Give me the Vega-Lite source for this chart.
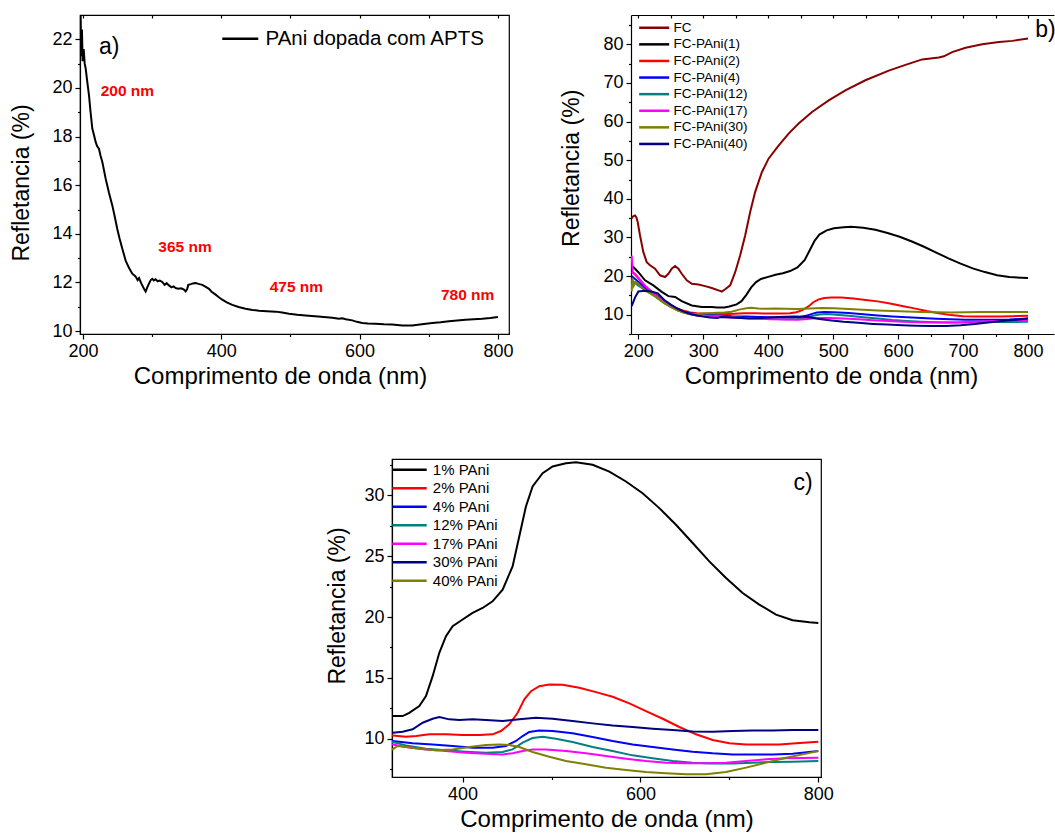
{
  "$schema": "https://vega.github.io/schema/vega-lite/v6.json",
  "padding": {"left": 10, "top": 13, "right": 0, "bottom": 0},
  "background": "white",
  "config": {
    "font": "Liberation Sans",
    "view": {"stroke": "black", "strokeWidth": 1.2},
    "axis": {"domainColor": "black", "tickColor": "black", "labelColor": "black", "titleColor": "black", "labelFontSize": 18, "titleFontSize": 24, "titleFontWeight": "normal", "labelPadding": 3, "tickWidth": 1.2, "tickSize": 5, "domainWidth": 1.2, "grid": false, "titlePadding": 4, "labelOverlap": false, "labelFlush": false},
    "axisY": {"titleFontSize": 23},
    "legend": {"padding": 0, "labelColor": "black", "labelLimit": 400}
  },
  "datasets": {
    "a": [
      {"x":196.6,"y":23.0},{"x":197.5,"y":21.3},{"x":198.5,"y":22.4},{"x":199.5,"y":21.1},{"x":201,"y":21.6},{"x":202.5,"y":21.0},{"x":203.9,"y":20.8},{"x":206,"y":20.3},{"x":208.7,"y":19.7},{"x":211,"y":19.0},{"x":213.5,"y":18.33},{"x":216,"y":18.05},{"x":218.3,"y":17.78},{"x":220.5,"y":17.6},{"x":223.1,"y":17.5},{"x":225.5,"y":17.2},{"x":228,"y":16.95},{"x":232.8,"y":16.27},{"x":237.5,"y":15.7},{"x":242.4,"y":15.17},{"x":246,"y":14.7},{"x":249.6,"y":14.2},{"x":253,"y":13.8},{"x":256.9,"y":13.39},{"x":261.7,"y":12.9},{"x":266.5,"y":12.6},{"x":271.3,"y":12.36},{"x":276,"y":12.25},{"x":279,"y":12.1},{"x":281,"y":12.18},{"x":284.5,"y":11.95},{"x":288.2,"y":11.74},{"x":290.6,"y":11.63},{"x":293,"y":11.8},{"x":295.4,"y":11.95},{"x":298,"y":12.1},{"x":300.2,"y":12.15},{"x":302.5,"y":12.08},{"x":305,"y":12.13},{"x":308,"y":12.05},{"x":311,"y":12.08},{"x":314.7,"y":12.02},{"x":318,"y":11.9},{"x":321,"y":11.97},{"x":324.3,"y":11.88},{"x":328,"y":11.8},{"x":331,"y":11.84},{"x":333.9,"y":11.77},{"x":338,"y":11.74},{"x":342,"y":11.76},{"x":346,"y":11.71},{"x":348.4,"y":11.63},{"x":350.5,"y":11.72},{"x":352.3,"y":11.9},{"x":356,"y":11.93},{"x":359,"y":11.96},{"x":362.9,"y":11.98},{"x":367,"y":11.94},{"x":372.5,"y":11.9},{"x":377,"y":11.83},{"x":382.2,"y":11.74},{"x":386,"y":11.62},{"x":391.8,"y":11.5},{"x":396,"y":11.4},{"x":401.4,"y":11.29},{"x":408,"y":11.18},{"x":415.9,"y":11.08},{"x":425,"y":10.99},{"x":435.2,"y":10.92},{"x":445,"y":10.87},{"x":454.5,"y":10.84},{"x":466,"y":10.82},{"x":478.6,"y":10.8},{"x":488,"y":10.76},{"x":497.8,"y":10.71},{"x":510,"y":10.67},{"x":521.9,"y":10.64},{"x":540,"y":10.6},{"x":560.5,"y":10.55},{"x":570.1,"y":10.51},{"x":574.9,"y":10.53},{"x":580,"y":10.49},{"x":589.4,"y":10.44},{"x":596,"y":10.38},{"x":603.9,"y":10.33},{"x":612,"y":10.31},{"x":623.1,"y":10.3},{"x":635,"y":10.28},{"x":647.2,"y":10.27},{"x":661.7,"y":10.23},{"x":676.1,"y":10.23},{"x":690,"y":10.28},{"x":705,"y":10.33},{"x":717,"y":10.36},{"x":729.2,"y":10.4},{"x":741,"y":10.44},{"x":753.3,"y":10.47},{"x":765,"y":10.49},{"x":777.3,"y":10.51},{"x":789,"y":10.54},{"x":800,"y":10.58}
    ],
    "annA": [
      {"x":225.6,"y":19.87,"t":"200 nm"},{"x":308.9,"y":13.45,"t":"365 nm"},{"x":469.9,"y":11.8,"t":"475 nm"},{"x":717.6,"y":11.47,"t":"780 nm"}
    ],
    "spec": [
      {"s":"FC","x":189.7,"y":34.9},{"s":"FC","x":192,"y":35.5},{"s":"FC","x":194.9,"y":35.7},{"s":"FC","x":197,"y":35.2},{"s":"FC","x":199,"y":34.0},{"s":"FC","x":202.6,"y":30.5},{"s":"FC","x":207.7,"y":26.2},{"s":"FC","x":212.9,"y":23.6},{"s":"FC","x":218,"y":22.8},{"s":"FC","x":225.7,"y":21.9},{"s":"FC","x":233.4,"y":20.2},{"s":"FC","x":241.1,"y":19.75},{"s":"FC","x":246.3,"y":20.6},{"s":"FC","x":251.4,"y":21.9},{"s":"FC","x":256.6,"y":22.6},{"s":"FC","x":261.7,"y":21.9},{"s":"FC","x":266.8,"y":20.6},{"s":"FC","x":274.6,"y":18.9},{"s":"FC","x":282.3,"y":18.0},{"s":"FC","x":292.5,"y":17.8},{"s":"FC","x":302.8,"y":17.4},{"s":"FC","x":313.1,"y":16.9},{"s":"FC","x":323.4,"y":16.3},{"s":"FC","x":328.5,"y":16.0},{"s":"FC","x":333.7,"y":16.6},{"s":"FC","x":341.4,"y":17.6},{"s":"FC","x":349.1,"y":21.0},{"s":"FC","x":356.8,"y":25.4},{"s":"FC","x":364.5,"y":30.5},{"s":"FC","x":372.2,"y":36.6},{"s":"FC","x":379.9,"y":41.8},{"s":"FC","x":390.2,"y":46.9},{"s":"FC","x":400.5,"y":50.4},{"s":"FC","x":415.9,"y":53.8},{"s":"FC","x":431.4,"y":56.9},{"s":"FC","x":446.8,"y":59.5},{"s":"FC","x":467.4,"y":62.5},{"s":"FC","x":493.1,"y":65.5},{"s":"FC","x":518.8,"y":68.1},{"s":"FC","x":549.6,"y":70.7},{"s":"FC","x":585.6,"y":73.2},{"s":"FC","x":611.3,"y":74.7},{"s":"FC","x":637,"y":76.1},{"s":"FC","x":662.7,"y":76.6},{"s":"FC","x":670.4,"y":76.9},{"s":"FC","x":683.2,"y":78.0},{"s":"FC","x":703.9,"y":79.1},{"s":"FC","x":729.6,"y":80.0},{"s":"FC","x":755.3,"y":80.6},{"s":"FC","x":775.8,"y":80.9},{"s":"FC","x":800,"y":81.5},

      {"s":"1","x":189.7,"y":22.8},{"s":"1","x":194.9,"y":21.9},{"s":"1","x":200,"y":21.0},{"s":"1","x":210.3,"y":18.9},{"s":"1","x":223.1,"y":17.6},{"s":"1","x":236,"y":15.9},{"s":"1","x":246.3,"y":14.8},{"s":"1","x":256.6,"y":14.6},{"s":"1","x":266.8,"y":13.5},{"s":"1","x":282.3,"y":12.4},{"s":"1","x":297.7,"y":12.0},{"s":"1","x":313.1,"y":12.0},{"s":"1","x":321.3,"y":11.86},{"s":"1","x":332.5,"y":11.86},{"s":"1","x":340,"y":12.13},{"s":"1","x":351.3,"y":12.68},{"s":"1","x":358.8,"y":13.5},{"s":"1","x":366.3,"y":15.14},{"s":"1","x":373.8,"y":17.06},{"s":"1","x":381.3,"y":18.43},{"s":"1","x":388.8,"y":19.25},{"s":"1","x":400,"y":19.8},{"s":"1","x":411.2,"y":20.34},{"s":"1","x":422.5,"y":20.75},{"s":"1","x":433.7,"y":21.3},{"s":"1","x":445,"y":22.26},{"s":"1","x":456.2,"y":24.17},{"s":"1","x":463.7,"y":26.63},{"s":"1","x":471.2,"y":29.1},{"s":"1","x":478.7,"y":30.74},{"s":"1","x":490,"y":31.83},{"s":"1","x":501.2,"y":32.38},{"s":"1","x":516.2,"y":32.65},{"s":"1","x":527.5,"y":32.74},{"s":"1","x":546.2,"y":32.52},{"s":"1","x":565,"y":31.97},{"s":"1","x":583.7,"y":31.15},{"s":"1","x":602.4,"y":30.19},{"s":"1","x":621.2,"y":28.96},{"s":"1","x":639.9,"y":27.59},{"s":"1","x":658.7,"y":26.09},{"s":"1","x":677.4,"y":24.58},{"s":"1","x":696.2,"y":23.21},{"s":"1","x":714.9,"y":21.98},{"s":"1","x":733.6,"y":21.03},{"s":"1","x":752.4,"y":20.2},{"s":"1","x":771.1,"y":19.74},{"s":"1","x":789.9,"y":19.58},{"s":"1","x":800,"y":19.52},

      {"s":"2","x":189.7,"y":21.0},{"s":"2","x":195,"y":20.5},{"s":"2","x":200,"y":19.5},{"s":"2","x":210,"y":17.5},{"s":"2","x":220,"y":16.0},{"s":"2","x":225,"y":15.6},{"s":"2","x":230,"y":14.8},{"s":"2","x":240,"y":13.5},{"s":"2","x":250,"y":12.4},{"s":"2","x":260,"y":11.6},{"s":"2","x":270,"y":11.0},{"s":"2","x":280,"y":10.6},{"s":"2","x":290,"y":10.4},{"s":"2","x":300,"y":10.3},{"s":"2","x":310,"y":10.3},{"s":"2","x":321.3,"y":10.27},{"s":"2","x":336.3,"y":10.16},{"s":"2","x":347.6,"y":10.22},{"s":"2","x":362.5,"y":10.36},{"s":"2","x":381.3,"y":10.36},{"s":"2","x":400,"y":10.3},{"s":"2","x":418.7,"y":10.3},{"s":"2","x":433.7,"y":10.36},{"s":"2","x":443.1,"y":10.63},{"s":"2","x":452.5,"y":11.18},{"s":"2","x":461.9,"y":12.13},{"s":"2","x":469.4,"y":13.23},{"s":"2","x":476.9,"y":13.91},{"s":"2","x":486.2,"y":14.32},{"s":"2","x":497.5,"y":14.46},{"s":"2","x":512.5,"y":14.43},{"s":"2","x":531.2,"y":14.19},{"s":"2","x":550,"y":13.83},{"s":"2","x":568.7,"y":13.45},{"s":"2","x":587.5,"y":12.9},{"s":"2","x":606.2,"y":12.27},{"s":"2","x":625,"y":11.64},{"s":"2","x":643.7,"y":10.96},{"s":"2","x":662.5,"y":10.36},{"s":"2","x":681.2,"y":9.89},{"s":"2","x":700,"y":9.62},{"s":"2","x":718.7,"y":9.53},{"s":"2","x":737.5,"y":9.53},{"s":"2","x":756.2,"y":9.53},{"s":"2","x":775,"y":9.62},{"s":"2","x":800,"y":9.75},

      {"s":"4","x":189.7,"y":20.0},{"s":"4","x":200,"y":18.5},{"s":"4","x":210,"y":17.0},{"s":"4","x":220,"y":15.8},{"s":"4","x":230,"y":14.5},{"s":"4","x":240,"y":13.2},{"s":"4","x":250,"y":12.2},{"s":"4","x":260,"y":11.4},{"s":"4","x":270,"y":10.8},{"s":"4","x":280,"y":10.4},{"s":"4","x":290,"y":10.1},{"s":"4","x":300,"y":10.0},{"s":"4","x":310,"y":9.9},{"s":"4","x":321.3,"y":9.81},{"s":"4","x":343.8,"y":9.62},{"s":"4","x":366.3,"y":9.53},{"s":"4","x":388.8,"y":9.4},{"s":"4","x":411.2,"y":9.26},{"s":"4","x":433.7,"y":9.26},{"s":"4","x":448.7,"y":9.4},{"s":"4","x":460,"y":9.81},{"s":"4","x":467.5,"y":10.22},{"s":"4","x":475,"y":10.55},{"s":"4","x":486.2,"y":10.68},{"s":"4","x":501.2,"y":10.63},{"s":"4","x":523.7,"y":10.44},{"s":"4","x":546.2,"y":10.14},{"s":"4","x":568.7,"y":9.81},{"s":"4","x":591.2,"y":9.53},{"s":"4","x":613.7,"y":9.32},{"s":"4","x":636.2,"y":9.12},{"s":"4","x":658.7,"y":8.93},{"s":"4","x":681.2,"y":8.8},{"s":"4","x":703.7,"y":8.71},{"s":"4","x":726.2,"y":8.71},{"s":"4","x":748.7,"y":8.71},{"s":"4","x":771.1,"y":8.77},{"s":"4","x":800,"y":8.99},

      {"s":"12","x":189.7,"y":19.0},{"s":"12","x":200,"y":17.5},{"s":"12","x":210,"y":16.5},{"s":"12","x":220,"y":15.5},{"s":"12","x":230,"y":14.2},{"s":"12","x":240,"y":13.0},{"s":"12","x":250,"y":12.0},{"s":"12","x":260,"y":11.2},{"s":"12","x":270,"y":10.6},{"s":"12","x":280,"y":10.2},{"s":"12","x":290,"y":9.9},{"s":"12","x":300,"y":9.8},{"s":"12","x":310,"y":9.75},{"s":"12","x":321.3,"y":9.73},{"s":"12","x":336.3,"y":9.45},{"s":"12","x":358.8,"y":9.18},{"s":"12","x":381.3,"y":9.04},{"s":"12","x":403.7,"y":8.93},{"s":"12","x":426.2,"y":8.85},{"s":"12","x":445,"y":8.91},{"s":"12","x":456.2,"y":9.12},{"s":"12","x":467.5,"y":9.67},{"s":"12","x":478.7,"y":10.05},{"s":"12","x":490,"y":10.16},{"s":"12","x":505,"y":10.0},{"s":"12","x":523.7,"y":9.73},{"s":"12","x":546.2,"y":9.32},{"s":"12","x":568.7,"y":8.99},{"s":"12","x":591.2,"y":8.63},{"s":"12","x":613.7,"y":8.39},{"s":"12","x":636.2,"y":8.17},{"s":"12","x":658.7,"y":8.03},{"s":"12","x":681.2,"y":7.95},{"s":"12","x":703.7,"y":7.95},{"s":"12","x":726.2,"y":8.03},{"s":"12","x":748.7,"y":8.08},{"s":"12","x":771.1,"y":8.11},{"s":"12","x":800,"y":8.17},

      {"s":"17","x":189.7,"y":25.3},{"s":"17","x":191.5,"y":21.0},{"s":"17","x":200,"y":19.5},{"s":"17","x":210,"y":17.5},{"s":"17","x":220,"y":16.0},{"s":"17","x":230,"y":14.5},{"s":"17","x":240,"y":13.2},{"s":"17","x":250,"y":12.1},{"s":"17","x":260,"y":11.2},{"s":"17","x":270,"y":10.6},{"s":"17","x":280,"y":10.1},{"s":"17","x":290,"y":9.8},{"s":"17","x":300,"y":9.7},{"s":"17","x":310,"y":9.6},{"s":"17","x":321.3,"y":9.53},{"s":"17","x":336.3,"y":9.32},{"s":"17","x":358.8,"y":9.12},{"s":"17","x":381.3,"y":8.99},{"s":"17","x":403.7,"y":8.85},{"s":"17","x":426.2,"y":8.77},{"s":"17","x":445,"y":8.71},{"s":"17","x":456.2,"y":8.8},{"s":"17","x":467.5,"y":8.99},{"s":"17","x":478.7,"y":9.12},{"s":"17","x":493.7,"y":9.12},{"s":"17","x":516.2,"y":8.99},{"s":"17","x":538.7,"y":8.8},{"s":"17","x":561.2,"y":8.58},{"s":"17","x":583.7,"y":8.36},{"s":"17","x":606.2,"y":8.17},{"s":"17","x":628.7,"y":8.03},{"s":"17","x":651.2,"y":7.98},{"s":"17","x":673.7,"y":7.98},{"s":"17","x":696.2,"y":8.03},{"s":"17","x":718.7,"y":8.17},{"s":"17","x":741.2,"y":8.3},{"s":"17","x":763.7,"y":8.39},{"s":"17","x":800,"y":8.44},

      {"s":"30","x":189.7,"y":16.0},{"s":"30","x":191,"y":19.5},{"s":"30","x":193,"y":17.5},{"s":"30","x":196,"y":18.5},{"s":"30","x":200,"y":18.0},{"s":"30","x":205,"y":17.0},{"s":"30","x":210,"y":16.3},{"s":"30","x":220,"y":15.3},{"s":"30","x":230,"y":14.3},{"s":"30","x":240,"y":13.0},{"s":"30","x":250,"y":12.0},{"s":"30","x":260,"y":11.1},{"s":"30","x":270,"y":10.5},{"s":"30","x":280,"y":10.2},{"s":"30","x":290,"y":10.2},{"s":"30","x":300,"y":10.3},{"s":"30","x":310,"y":10.4},{"s":"30","x":321.3,"y":10.49},{"s":"30","x":332.5,"y":10.57},{"s":"30","x":343.8,"y":10.77},{"s":"30","x":355.1,"y":11.31},{"s":"30","x":366.3,"y":11.64},{"s":"30","x":373.8,"y":11.78},{"s":"30","x":385,"y":11.59},{"s":"30","x":396.3,"y":11.53},{"s":"30","x":411.2,"y":11.59},{"s":"30","x":426.2,"y":11.53},{"s":"30","x":445,"y":11.45},{"s":"30","x":463.7,"y":11.59},{"s":"30","x":482.5,"y":11.72},{"s":"30","x":501.2,"y":11.64},{"s":"30","x":523.7,"y":11.45},{"s":"30","x":546.2,"y":11.26},{"s":"30","x":568.7,"y":11.09},{"s":"30","x":591.2,"y":10.96},{"s":"30","x":613.7,"y":10.82},{"s":"30","x":636.2,"y":10.71},{"s":"30","x":658.7,"y":10.6},{"s":"30","x":681.2,"y":10.57},{"s":"30","x":703.7,"y":10.63},{"s":"30","x":726.2,"y":10.68},{"s":"30","x":748.7,"y":10.68},{"s":"30","x":771.1,"y":10.71},{"s":"30","x":800,"y":10.71},

      {"s":"40","x":189.7,"y":12.2},{"s":"40","x":195,"y":14.5},{"s":"40","x":200,"y":16.0},{"s":"40","x":210,"y":16.2},{"s":"40","x":220,"y":16.0},{"s":"40","x":230,"y":15.5},{"s":"40","x":240,"y":13.8},{"s":"40","x":250,"y":12.6},{"s":"40","x":260,"y":11.6},{"s":"40","x":270,"y":10.8},{"s":"40","x":280,"y":10.2},{"s":"40","x":290,"y":9.8},{"s":"40","x":300,"y":9.5},{"s":"40","x":310,"y":9.3},{"s":"40","x":321.3,"y":9.12},{"s":"40","x":326.9,"y":9.4},{"s":"40","x":336.3,"y":9.32},{"s":"40","x":351.3,"y":9.18},{"s":"40","x":370,"y":9.04},{"s":"40","x":388.8,"y":9.12},{"s":"40","x":407.5,"y":9.32},{"s":"40","x":426.2,"y":9.48},{"s":"40","x":441.2,"y":9.53},{"s":"40","x":452.5,"y":9.48},{"s":"40","x":463.7,"y":9.32},{"s":"40","x":478.7,"y":8.91},{"s":"40","x":497.5,"y":8.52},{"s":"40","x":516.2,"y":8.17},{"s":"40","x":538.7,"y":7.89},{"s":"40","x":561.2,"y":7.62},{"s":"40","x":583.7,"y":7.43},{"s":"40","x":606.2,"y":7.26},{"s":"40","x":628.7,"y":7.15},{"s":"40","x":651.2,"y":7.07},{"s":"40","x":673.7,"y":7.07},{"s":"40","x":696.2,"y":7.26},{"s":"40","x":718.7,"y":7.62},{"s":"40","x":741.2,"y":8.03},{"s":"40","x":763.7,"y":8.44},{"s":"40","x":782.5,"y":8.71},{"s":"40","x":800,"y":8.99}
    ]
  },
  "bounds": "full",
  "spacing": 69,
  "resolve": {"scale": {"color": "independent"}},
  "vconcat": [
    {
      "hconcat": [
        {
          "width": 429, "height": 319,
          "resolve": {"axis": {"x": "independent", "y": "independent"}},
          "layer": [
            {
              "data": {"name": "a"},
              "mark": {"type": "line", "strokeWidth": 2, "clip": true},
              "encoding": {
                "x": {"field": "x", "type": "quantitative", "scale": {"domain": [195.7, 816], "nice": false, "zero": false},
                  "axis": {"orient": "bottom", "title": "Comprimento de onda (nm)", "values": [200,400,600,800], "titleX": 200}},
                "y": {"field": "y", "type": "quantitative", "scale": {"domain": [9.88, 23], "nice": false, "zero": false},
                  "axis": {"orient": "left", "title": "Refletancia (%)", "values": [10,12,14,16,18,20,22], "titlePadding": 18, "titleY": 167.5}},
                "color": {"datum": "PAni dopada com APTS", "type": "nominal", "scale": {"range": ["black"]},
                  "legend": {"title": null, "orient": "none", "legendX": 137, "legendY": 13.6, "symbolType": "M-1,0H6.2", "symbolSize": 100, "symbolStrokeWidth": 2.5, "labelFontSize": 20.5, "labelOffset": 28}}
              }
            },
            {
              "data": {"name": "annA"},
              "mark": {"type": "text", "fontWeight": "bold", "fontSize": 15.5, "color": "#FF0000", "align": "left", "baseline": "middle"},
              "encoding": {
                "x": {"field": "x", "type": "quantitative", "scale": {"domain": [195.7, 816], "nice": false, "zero": false},
                  "axis": {"orient": "bottom", "values": [300,500,700], "labels": false, "title": null, "domain": false, "tickSize": 2.5}},
                "y": {"field": "y", "type": "quantitative", "scale": {"domain": [9.88, 23], "nice": false, "zero": false},
                  "axis": {"orient": "left", "values": [11,13,15,17,19,21], "labels": false, "title": null, "domain": false, "tickSize": 2.5}},
                "text": {"field": "t"}
              }
            },
            {
              "data": {"values": [{"x": 223.1, "y": 21.69, "t": "a)"}]},
              "mark": {"type": "text", "fontSize": 23, "color": "black", "align": "left", "baseline": "middle"},
              "encoding": {
                "x": {"field": "x", "type": "quantitative", "scale": {"domain": [195.7, 816], "nice": false, "zero": false},
                  "axis": {"orient": "top", "values": [200,300,400,500,600,700,800], "labels": false, "title": null, "domain": false, "tickSize": -3}},
                "y": {"field": "y", "type": "quantitative", "axis": null},
                "text": {"field": "t"}
              }
            }
          ]
        },
        {
          "width": 423, "height": 319,
          "view": {"stroke": null},
          "resolve": {"axis": {"x": "independent", "y": "independent"}},
          "layer": [
            {
              "data": {"name": "spec"},
              "mark": {"type": "line", "strokeWidth": 2, "clip": true},
              "encoding": {
                "x": {"field": "x", "type": "quantitative", "scale": {"domain": [188.7, 840], "nice": false, "zero": false},
                  "axis": {"orient": "bottom", "title": "Comprimento de onda (nm)", "values": [200,300,400,500,600,700,800], "titleX": 200}},
                "y": {"field": "y", "type": "quantitative", "scale": {"domain": [5, 87.6], "nice": false, "zero": false},
                  "axis": {"orient": "left", "title": "Refletancia (%)", "values": [10,20,30,40,50,60,70,80], "titlePadding": 19, "titleY": 152.8}},
                "color": {"field": "s", "type": "nominal",
                  "scale": {"domain": ["FC","1","2","4","12","17","30","40"], "range": ["#880000","#000000","#FF0000","#0000FF","#008080","#FF00FF","#808000","#000080"]},
                  "legend": {"title": null, "orient": "none", "legendX": 6.4, "legendY": 6.0, "symbolType": "M-1,0H5", "symbolSize": 100, "symbolStrokeWidth": 2.5, "labelFontSize": 13.5, "labelOffset": 22.6, "rowPadding": 1.6, "labelExpr": "datum.label === 'FC' ? 'FC' : 'FC-PAni(' + datum.label + ')'"}}
              }
            },
            {
              "data": {"values": [{"x": 811, "y": 83.6, "t": "b)"}]},
              "mark": {"type": "text", "fontSize": 23, "color": "black", "align": "left", "baseline": "middle"},
              "encoding": {
                "x": {"field": "x", "type": "quantitative", "scale": {"domain": [188.7, 840], "nice": false, "zero": false},
                  "axis": {"orient": "bottom", "values": [250,350,450,550,650,750], "labels": false, "title": null, "domain": false, "tickSize": 2.5}},
                "y": {"field": "y", "type": "quantitative", "scale": {"domain": [5, 87.6], "nice": false, "zero": false},
                  "axis": {"orient": "left", "values": [5,15,25,35,45,55,65,75,85], "labels": false, "title": null, "domain": false, "tickSize": 2.5}},
                "text": {"field": "t"}
              }
            },
            {
              "data": {"values": [{"x": 811, "y": 83.6, "t": "b)"}]},
              "mark": {"type": "point", "opacity": 0},
              "encoding": {
                "x": {"field": "x", "type": "quantitative", "scale": {"domain": [188.7, 840], "nice": false, "zero": false},
                  "axis": {"orient": "top", "values": [200,250,300,350,400,450,500,550,600,650,700,750,800], "labels": false, "title": null, "domain": true, "tickSize": -3}},
                "y": {"field": "y", "type": "quantitative", "axis": null}
              }
            }
          ]
        }
      ],
      "spacing": 122,
      "bounds": "flush",
      "resolve": {"scale": {"color": "independent"}}
    },
    {
      "hconcat": [
        {
          "width": 189.7, "height": 10,
          "view": {"stroke": null},
          "data": {"values": []},
          "mark": "point"
        },
        {
          "width": 429, "height": 318,
          "resolve": {"axis": {"x": "independent", "y": "independent"}},
          "layer": [
            {
              "data": {"name": "spec"},
              "transform": [{"filter": "datum.s !== 'FC'"}],
              "mark": {"type": "line", "strokeWidth": 2, "clip": true},
              "encoding": {
                "x": {"field": "x", "type": "quantitative", "scale": {"domain": [320.6, 803], "nice": false, "zero": false},
                  "axis": {"orient": "bottom", "title": "Comprimento de onda (nm)", "values": [400,600,800]}},
                "y": {"field": "y", "type": "quantitative", "scale": {"domain": [6.85, 33], "nice": false, "zero": false},
                  "axis": {"orient": "left", "title": "Refletancia (%)", "values": [10,15,20,25,30], "titlePadding": 14, "titleY": 146.5}},
                "color": {"field": "s", "type": "nominal",
                  "scale": {"domain": ["1","2","4","12","17","30","40"], "range": ["#000000","#FF0000","#0000FF","#008080","#FF00FF","#000080","#808000"]},
                  "legend": {"title": null, "orient": "none", "legendX": -2.2, "legendY": 3.2, "symbolType": "M-1,0H5.88", "symbolSize": 100, "symbolStrokeWidth": 2.5, "labelFontSize": 15, "labelOffset": 28, "rowPadding": 2.5, "labelExpr": "datum.label + '% PAni'"}}
              }
            },
            {
              "data": {"values": [{"x": 772, "y": 31.02, "t": "c)"}]},
              "mark": {"type": "text", "fontSize": 23, "color": "black", "align": "left", "baseline": "middle"},
              "encoding": {
                "x": {"field": "x", "type": "quantitative", "scale": {"domain": [320.6, 803], "nice": false, "zero": false},
                  "axis": {"orient": "bottom", "values": [500,700], "labels": false, "title": null, "domain": false, "tickSize": 2.5}},
                "y": {"field": "y", "type": "quantitative", "scale": {"domain": [6.85, 33], "nice": false, "zero": false},
                  "axis": {"orient": "left", "values": [7.5,12.5,17.5,22.5,27.5,32.5], "labels": false, "title": null, "domain": false, "tickSize": 2.5}},
                "text": {"field": "t"}
              }
            }
          ]
        }
      ],
      "spacing": 122,
      "bounds": "flush",
      "resolve": {"scale": {"color": "independent"}}
    }
  ]
}
